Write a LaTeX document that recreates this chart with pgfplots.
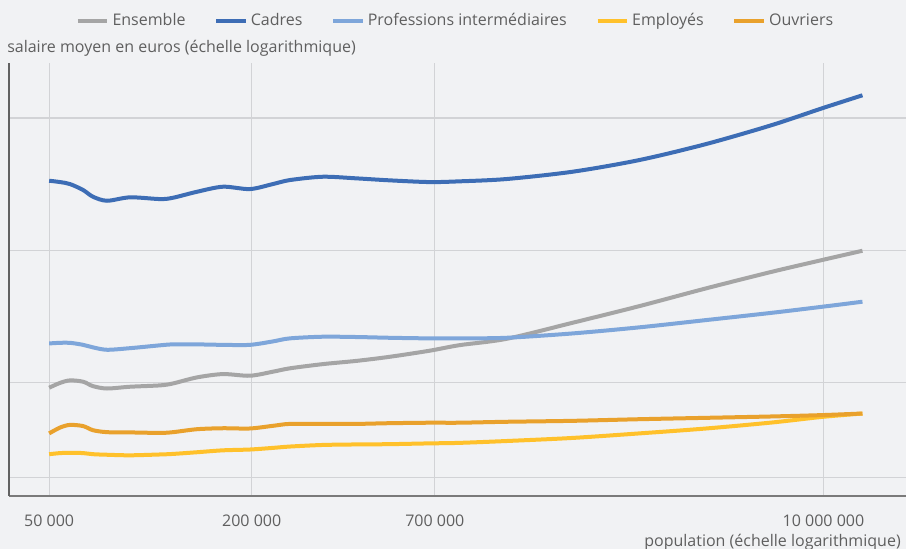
\documentclass[border=0pt]{standalone}
\usepackage{fontspec}
\setmainfont{Open Sans}
\usepackage{pgfplots}
\usepackage{pgfplotstable}
\pgfplotsset{compat=1.18}

\definecolor{bg}{HTML}{F1F2F4}
\definecolor{gridgray}{HTML}{D2D3D6}
\definecolor{axisgray}{HTML}{7A7A7A}
\definecolor{labgray}{HTML}{5F5F5F}
\definecolor{cEns}{HTML}{A5A5A5}
\definecolor{cCad}{HTML}{3D6DB5}
\definecolor{cPro}{HTML}{7EA6DA}
\definecolor{cEmp}{HTML}{FFC12B}
\definecolor{cOuv}{HTML}{E9A12C}

% salaire moyen selon la taille de l'aire urbaine
\pgfplotstableread{
pop      ens   cad   pro   emp   ouv
50000    9.71  28.78 12.25 6.85  7.64
53900    9.96  28.58 12.29 6.89  7.88
57700    10.09 28.28 12.29 6.90  7.99
63100    10.02 27.41 12.16 6.89  7.94
67500    9.79  26.46 12.00 6.85  7.77
74300    9.67  25.91 11.85 6.83  7.69
87000    9.76  26.38 11.95 6.81  7.68
106800   9.83  26.14 12.13 6.84  7.66
116700   9.93  26.32 12.19 6.86  7.69
137500   10.25 27.16 12.19 6.92  7.81
164200   10.43 27.89 12.16 6.99  7.85
197500   10.34 27.55 12.16 7.02  7.84
231000   10.56 28.28 12.38 7.08  7.95
259500   10.75 28.88 12.58 7.13  8.03
325200   10.99 29.39 12.69 7.19  8.03
410100   11.18 29.14 12.67 7.21  8.03
513800   11.42 28.84 12.62 7.22  8.06
675000   11.79 28.58 12.58 7.25  8.08
829000   12.14 28.69 12.58 7.27  8.08
1143000  12.55 29.04 12.62 7.34  8.12
1794000  13.65 30.17 12.91 7.46  8.16
2836000  14.90 32.08 13.33 7.64  8.23
4483000  16.36 34.90 13.85 7.84  8.29
7036000  17.85 38.56 14.39 8.09  8.35
9900000  18.98 42.09 14.85 8.33  8.41
13060000 19.93 45.07 15.25 8.48  8.48
}\salaires

\begin{document}
\begin{tikzpicture}[x=0.75pt,y=0.75pt]
\path[use as bounding box, fill=bg] (0,0) rectangle (906,549);
\begin{axis}[
  at={(6.75pt,39.75pt)}, anchor=south west,
  scale only axis, width=672.75pt, height=324.75pt,
  xmode=log, ymode=log,
  xmin=38000, xmax=17600000, ymin=5.5, ymax=53.4,
  axis x line=bottom, axis y line=left,
  x axis line style={-, draw=axisgray, line width=0.9pt},
  y axis line style={-, draw=axisgray!80!black, line width=0.9pt},
  xtick={50000,200000,700000,10000000},
  xticklabels={50 000,200 000,700 000,10 000 000},
  ytick={6.07,10,20,40}, yticklabels={},
  major tick length=0pt,
  grid=major, grid style={draw=gridgray, line width=0.8pt},
  xticklabel style={font=\fontsize{12}{14}\selectfont, text=labgray, yshift=-10.5pt},
  legend columns=5,
  legend style={draw=none, fill=none, at={(rel axis cs:0.4985,1.0977)}, anchor=center,
    font=\fontsize{12}{14}\selectfont, text=labgray,
    /tikz/every even column/.append style={column sep=19pt},
    nodes={inner sep=2.5pt}},
  legend image code/.code={\draw[line width=3pt] (0pt,0pt) -- (22pt,0pt);},
  every axis plot/.append style={line width=3pt, smooth, line cap=butt},
]
\addplot[cEns] table[x=pop, y=ens] {\salaires};
\addlegendentry{Ensemble}
\addplot[cCad] table[x=pop, y=cad] {\salaires};
\addlegendentry{Cadres}
\addplot[cPro] table[x=pop, y=pro] {\salaires};
\addlegendentry{Professions intermédiaires}
\addplot[cEmp] table[x=pop, y=emp] {\salaires};
\addlegendentry{Employés}
\addplot[cOuv] table[x=pop, y=ouv] {\salaires};
\addlegendentry{Ouvriers}
\end{axis}
\node[anchor=west, inner sep=0pt, text=labgray, font=\fontsize{12}{14}\selectfont]
  at (7,501) {salaire moyen en euros (échelle logarithmique)};
\node[anchor=east, inner sep=0pt, text=labgray, font=\fontsize{12}{14}\selectfont]
  at (901,6.5) {population (échelle logarithmique)};
\end{tikzpicture}
\end{document}
